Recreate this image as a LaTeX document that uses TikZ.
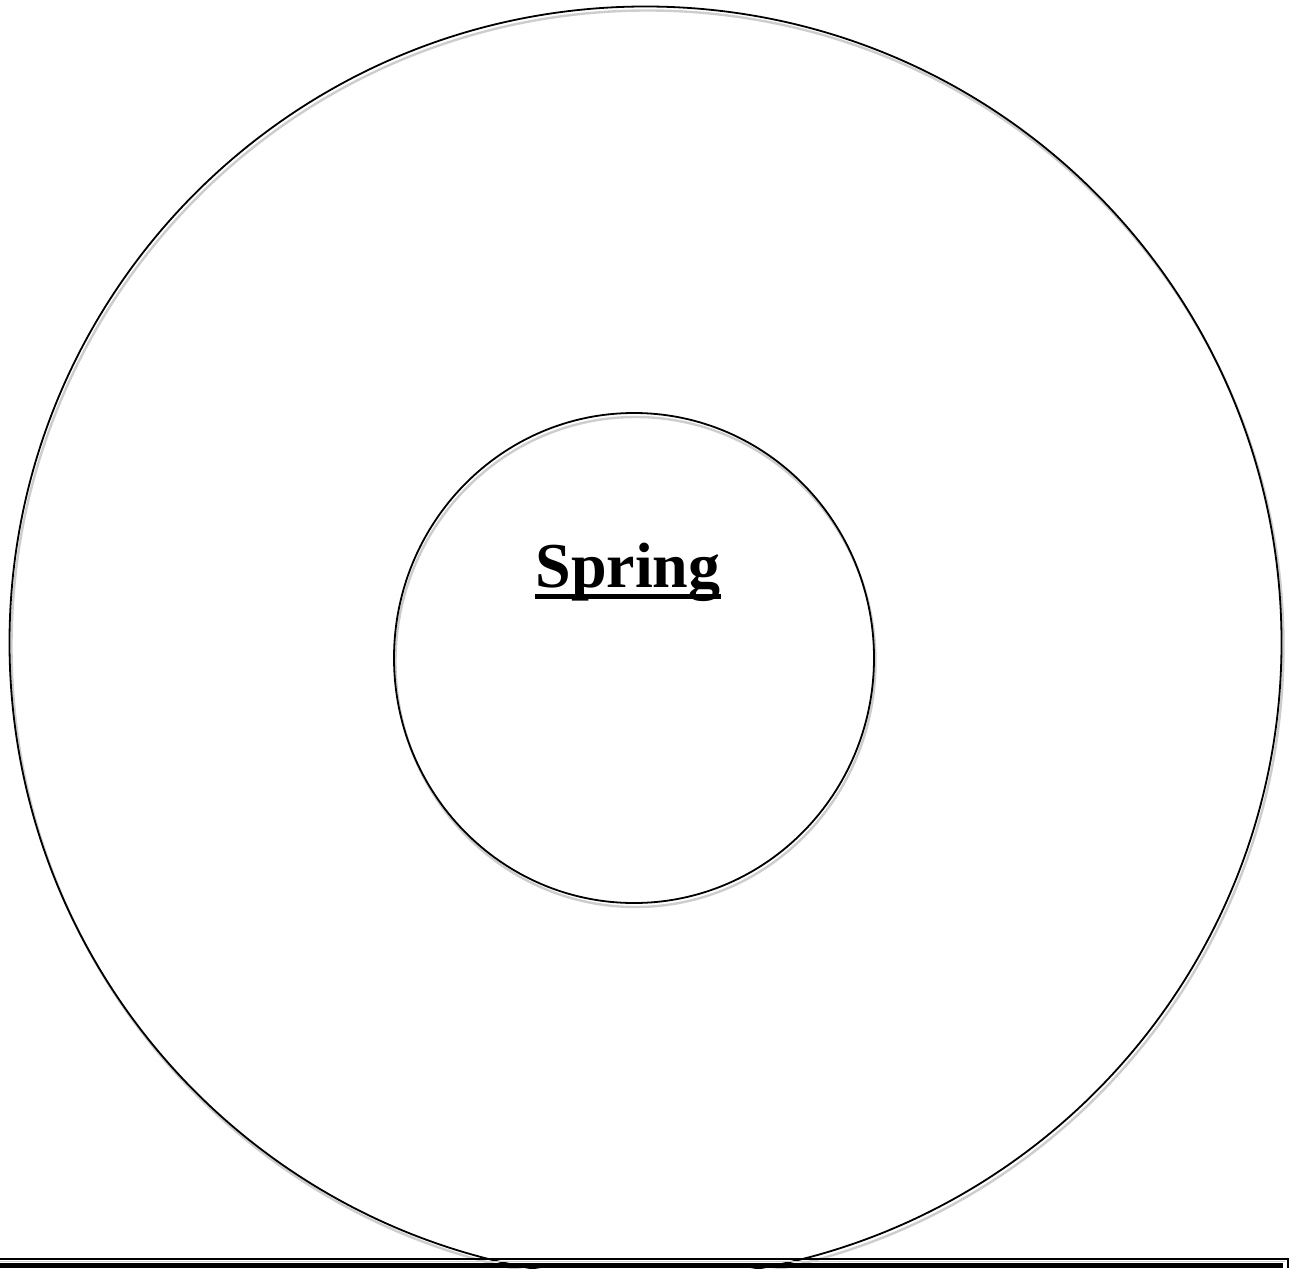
\documentclass[tikz,border=0pt]{standalone}
\usepackage{fontspec}
\setmainfont{Liberation Serif}
\usetikzlibrary{positioning,calc}
\definecolor{ringBlack} {RGB}{  0,  0,  0}
\definecolor{ringShadow}{RGB}{205,205,205}

\begin{document}
\begin{tikzpicture}[x=1pt,y=-1pt,
    ring/.style={draw=ringBlack,line width=1.8pt},
    shade/.style={draw=ringShadow,line width=2.4pt}]
      \useasboundingbox (0,0) rectangle (1289,1268);
      % soft shadows under the two rings
      \draw[shade] (647.5,646.5) circle (636);
      \draw[shade] (635.5,662) ellipse (240 and 245);
      % the rings
      \draw[ring] (645.5,642.5) circle (636);
      \draw[ring] (634,658) ellipse (240 and 245);
      % title
      \node[font=\fontsize{64}{70}\selectfont\bfseries,inner sep=0pt,anchor=base]
        (title) at (628,587) {Spring};
      \draw[line width=5pt] ([yshift=-9.5pt]title.base west) -- ([yshift=-9.5pt]title.base east);
      % page border at the foot
      \draw[line width=2pt] (0,1258.5) -- (1287.5,1258.5) -- (1287.5,1268);
      \draw[ringShadow,line width=1pt] (0,1261) -- (1285,1261);
      \draw[line width=5pt] (0,1265.5) -- (1282,1265.5);
      \draw[line width=2pt] (1282,1263) -- (1282,1268);
    \end{tikzpicture}
\end{document}
